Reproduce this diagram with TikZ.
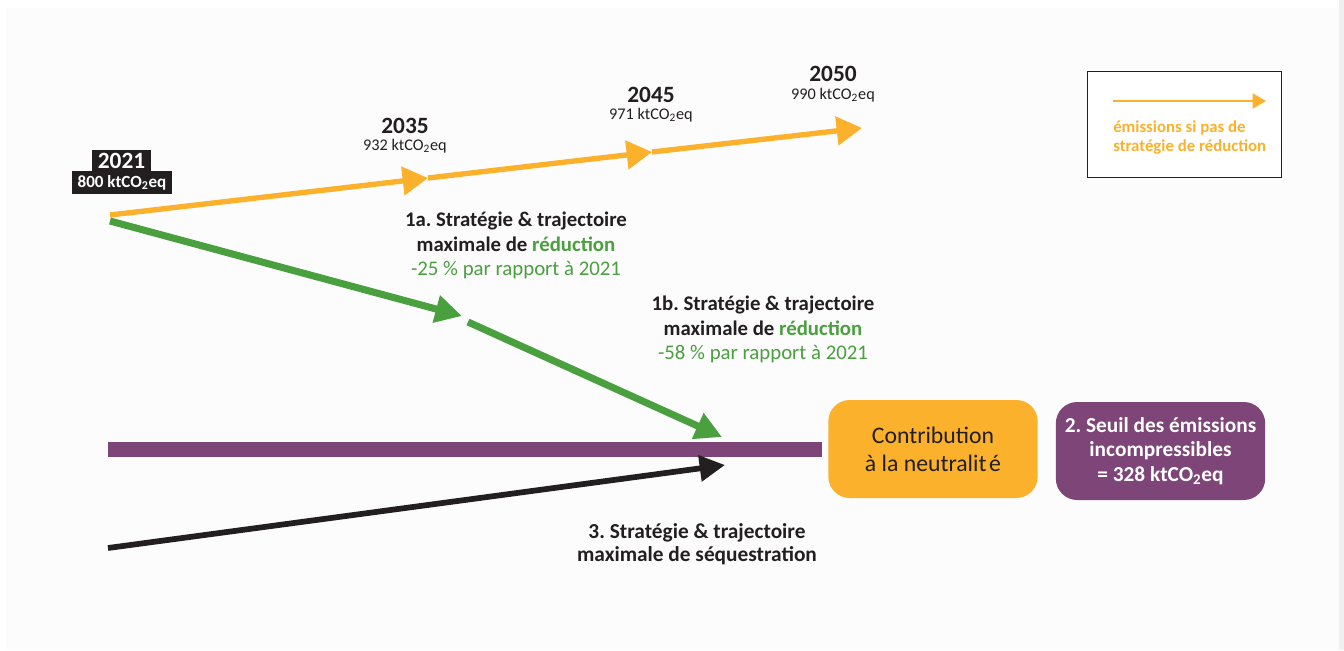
\documentclass[tikz,border=0pt]{standalone}
\usepackage{fontspec}
\setmainfont{Carlito}
\usetikzlibrary{arrows.meta,positioning}

\definecolor{ink}{HTML}{231F20}
\definecolor{orangeE}{HTML}{FBB12B}
\definecolor{greenR}{HTML}{4A9F3F}
\definecolor{purpleS}{HTML}{7E4579}
\definecolor{paper}{HTML}{FCFCFC}

\newcommand{\ktco}{ktCO\textsubscript{2}eq}
\frenchspacing

\begin{document}
\begin{tikzpicture}[x=0.75pt,y=-0.75pt,
    year/.style={font=\bfseries\fontsize{17.5}{19}\selectfont,text=ink,inner sep=0pt},
    value/.style={font=\fontsize{12.2}{14}\selectfont,text=ink,inner sep=0pt},
    tag/.style={fill=ink,text=white,inner sep=0pt},
    strategy/.style={align=center,text=ink,inner sep=0pt,font=\bfseries\fontsize{15.6}{18.4}\selectfont},
    box/.style={rounded corners=16pt,minimum width=157pt,minimum height=73.5pt,align=center,inner sep=0pt},
    trend/.style={draw=orangeE,line width=4pt,-{Triangle[length=19pt,width=21pt]}},
    cut/.style={draw=greenR,line width=5.3pt,-{Triangle[length=20pt,width=20pt]}},
    sink/.style={draw=ink,line width=4.3pt,-{Triangle[length=19pt,width=19pt]}}]

  % background
  \fill[white] (0,0) rectangle (1344,650);
  \fill[paper] (6,8) rectangle (1339,650);
  \fill[black!6] (1339,0) rectangle (1344,650);

  % points of the trajectories
  \coordinate (o0) at (110,215);
  \coordinate (o1) at (428,178);
  \coordinate (o2) at (652,152);
  \coordinate (o3) at (862,128);
  \coordinate (g0) at (110,221);
  \coordinate (g1) at (462,316);
  \coordinate (g2) at (468,322);
  \coordinate (g3) at (722,437);
  \coordinate (k0) at (108,548);
  \coordinate (k1) at (725,465);
  \coordinate (p0) at (108,449.5);
  \coordinate (p1) at (822,449.5);

  % threshold bar
  \draw[purpleS,line width=11.25pt] (p0) -- (p1);

  % trajectories
  \draw[trend] (o0) -- (o1);
  \draw[trend] (o1) -- (o2);
  \draw[trend] (o2) -- (o3);
  \draw[cut] (g0) -- (g1);
  \draw[cut] (g2) -- (g3);
  \draw[sink] (k0) -- (k1);

  % years
  \node[tag,minimum width=44pt,minimum height=16pt,font=\bfseries\fontsize{17.5}{19}\selectfont] (y2021) at (121.5,160.5) {2021};
  \node[tag,minimum width=75pt,minimum height=17pt,font=\bfseries\fontsize{12.8}{14}\selectfont] (v2021) at (122,182.5) {800 \ktco};
  \node[year] (y2035) at (405,126) {2035};
  \node[value] (v2035) at (405,146) {932 \ktco};
  \node[year] (y2045) at (651,95) {2045};
  \node[value] (v2045) at (651,115) {971 \ktco};
  \node[year] (y2050) at (833,74) {2050};
  \node[value] (v2050) at (833,95) {990 \ktco};

  % strategies
  \node[strategy] (s1a) at (516,245.5) {1a. Stratégie \& trajectoire\\maximale de \textcolor{greenR}{réduction}\\
    \textcolor{greenR}{\mdseries -25 \% par rapport à 2021}};
  \node[strategy] (s1b) at (763,329.5) {1b. Stratégie \& trajectoire\\maximale de \textcolor{greenR}{réduction}\\
    \textcolor{greenR}{\mdseries -58 \% par rapport à 2021}};
  \node[strategy,font=\bfseries\fontsize{16}{17.5}\selectfont] (s3) at (697,544) {3. Stratégie \& trajectoire\\maximale de séquestration};

  % boxes
  \node[box,fill=orangeE,text=ink,font=\fontsize{17.8}{21}\selectfont] (contrib) at (933,449) {Contribution\\à la neutralit\hspace{2pt}é};
  \node[box,fill=purpleS,text=white,font=\bfseries\fontsize{16}{18.4}\selectfont] (seuil) at (1160.5,451)
    {2. Seuil des émissions\\incompressibles\\= 328 \ktco};

  % legend
  \node[draw=ink,line width=0.6pt,fill=white,minimum width=145.5pt,minimum height=79.5pt,inner sep=0pt] (legend) at (1184,124) {};
  \coordinate (l0) at (1113,101);
  \coordinate (l1) at (1266,101);
  \draw[draw=orangeE,line width=2.2pt,-{Triangle[length=10pt,width=11pt]}] (l0) -- (l1);
  \node[anchor=west,align=left,inner sep=0pt,text=orangeE,font=\bfseries\fontsize{12.6}{14.2}\selectfont] (legtext) at (1113,137.5)
    {émissions si pas de\\stratégie de réduction};
\end{tikzpicture}
\end{document}
